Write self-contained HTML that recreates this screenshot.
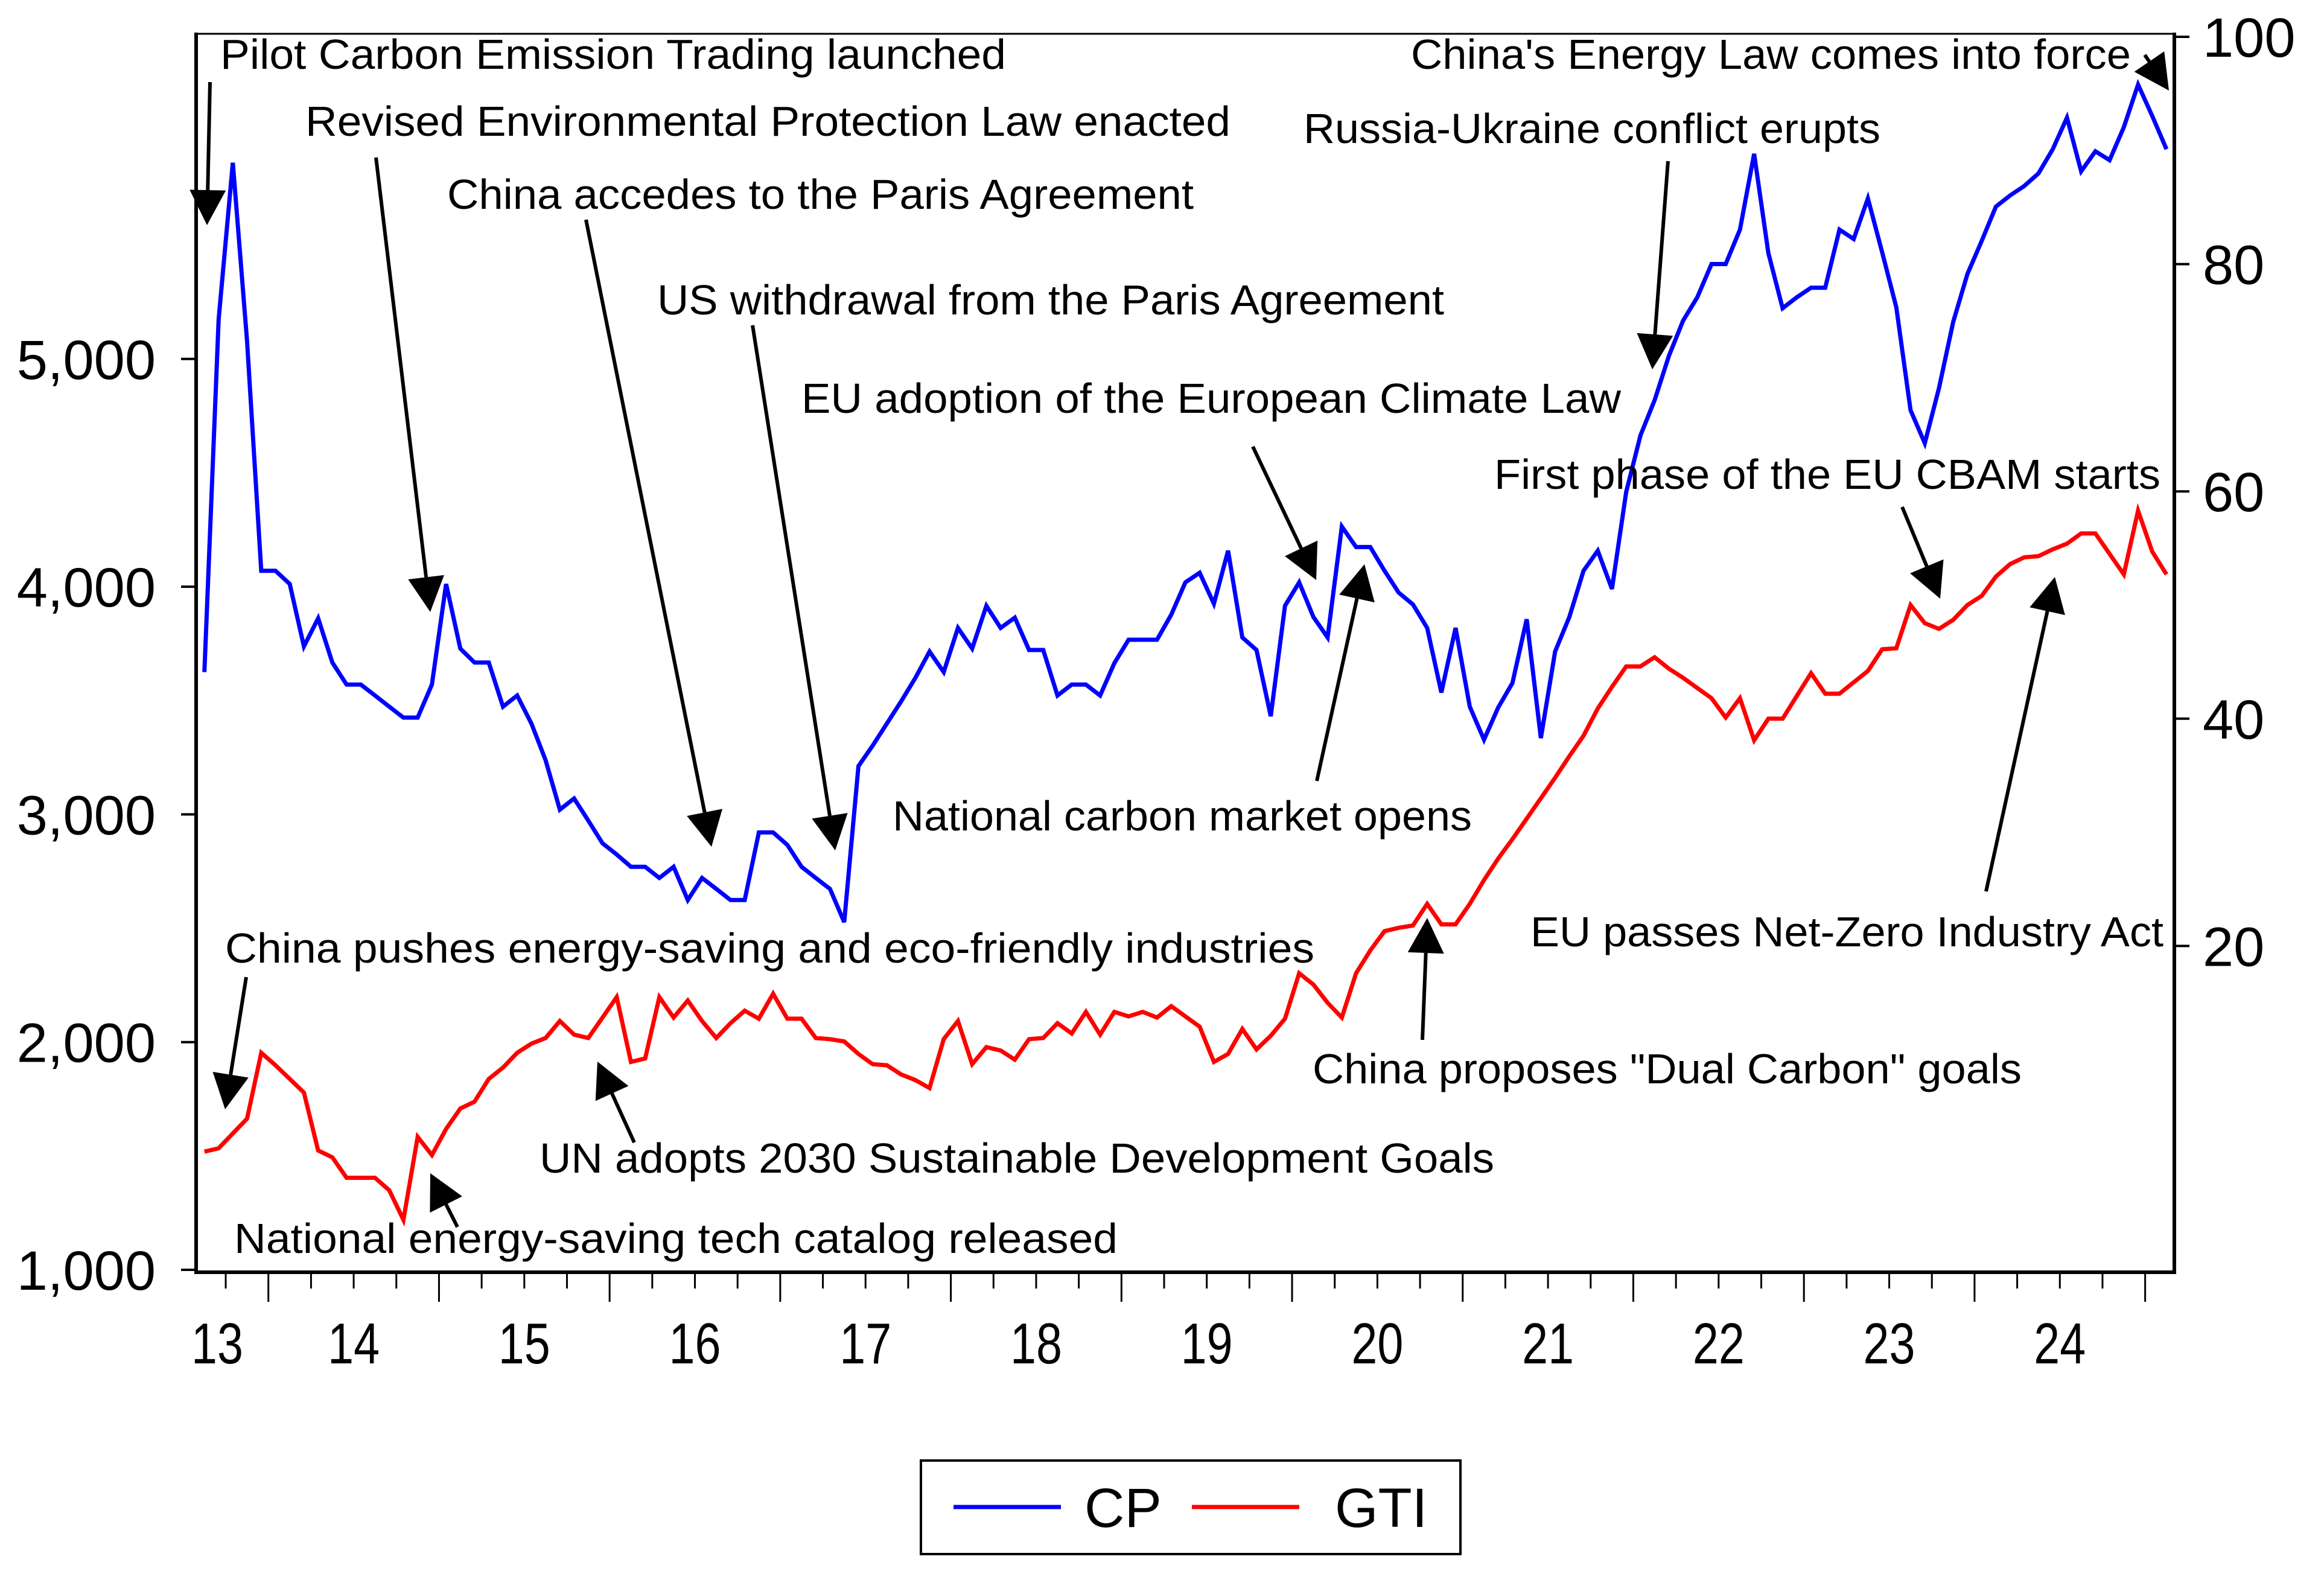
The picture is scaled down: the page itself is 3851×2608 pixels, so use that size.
<!DOCTYPE html>
<html><head><meta charset="utf-8">
<style>
html,body{margin:0;padding:0;background:#fff;}
svg{display:block;}
text{font-family:"Liberation Sans",Arial,sans-serif;fill:#000;}
</style></head>
<body>
<svg id="chart" width="3851" height="2608" viewBox="0 0 3851 2608" xmlns="http://www.w3.org/2000/svg">
<rect x="0" y="0" width="3851" height="2608" fill="#fff"/>
<g id="gridLayer"></g>
<g id="seriesLayer"></g>
<g id="annoLayer"></g>
<g>
  <rect x="1526" y="2420" width="894" height="155" fill="#fff" stroke="#000" stroke-width="4"/>
  <line x1="1580" y1="2497" x2="1758" y2="2497" stroke="#0000ff" stroke-width="7"/>
  <text x="1797" y="2530" font-size="92">CP</text>
  <line x1="1975" y1="2497" x2="2153" y2="2497" stroke="#ff0000" stroke-width="7"/>
  <text x="2212" y="2530" font-size="92">GTI</text>
</g>
</svg>
<script>
// ---- data ----
const startMonth = 7; // months since Jan 2013 (Aug 2013)
const cpValues = [
3625,5174,5862,5078,4070,4070,4012,3738,3861,3667,3570,3570,3522,3473,3425,3425,3570,4012,3728,3667,3667,3473,3522,
3399,3238,3021,3070,2973,2873,2824,2770,2770,2721,2770,2624,2721,2673,2624,2624,2921,2921,2866,2770,2721,2673,2527,
3212,3302,3399,3496,3599,3715,3625,3819,3728,3916,3819,3864,3722,3722,3522,3570,3570,3522,3664,3767,3767,3767,3877,
4019,4061,3925,4158,3777,3722,3431,3916,4019,3867,3777,4264,4174,4174,4070,3974,3922,3819,3535,3819,3473,3328,3470,
3577,3857,3335,3715,3867,4070,4158,3990,4416,4664,4819,5013,5168,5271,5417,5417,5568,5901,5465,5223,5271,5313,5313,5568,
5527,5705,5469,5227,4775,4630,4872,5163,5373,5518,5669,5718,5760,5815,5921,6060,5824,5912,5873,6018,6205,6067,5921];
const gtiValues = [
1.9,2.2,3.5,4.8,10.6,9.5,8.3,7.1,2.0,1.4,-0.4,-0.4,-0.4,-1.5,-4.1,3.2,1.6,3.9,5.7,6.3,8.3,9.3,10.6,
11.4,11.9,13.4,12.2,11.9,13.7,15.5,9.8,10.1,15.5,13.7,15.2,13.4,11.9,13.2,14.3,13.6,15.8,13.6,13.6,11.9,11.8,11.6,
10.5,9.6,9.5,8.7,8.2,7.5,11.8,13.4,9.6,11.1,10.8,10.0,11.8,11.9,13.2,12.3,14.2,12.2,14.2,13.8,14.2,13.7,14.7,
13.8,12.9,9.8,10.5,12.7,10.9,12.1,13.6,17.6,16.6,15.0,13.7,17.6,19.6,21.3,21.6,21.8,23.7,21.9,21.9,23.7,25.8,27.7,
29.4,31.2,33.0,34.8,36.7,38.5,40.9,42.8,44.6,44.6,45.4,44.4,43.6,42.7,41.8,40.1,41.8,38.1,40.0,40.0,42.0,44.0,42.2,42.2,
43.2,44.2,46.1,46.2,50.0,48.4,47.9,48.7,50.0,50.8,52.5,53.6,54.2,54.3,54.9,55.4,56.3,56.3,54.5,52.7,58.3,54.7,52.7];
const leftTicks = [1000,2000,3000,4000,5000];
const leftTickLabels = ["1,000","2,000","3,000","4,000","5,000"];
const rightTicks = [20,40,60,80,100];
const rightTickLabels = ["20","40","60","80","100"];
const yearLabels = ["13","14","15","16","17","18","19","20","21","22","23","24"];

// ---- scales ----
const L = 325, R = 3603, T = 56, B = 2108;
function xOfMonth(m){ return 162 + 23.56 * m; }        // m = months since Jan 2013
function xOfIndex(i){ return xOfMonth(startMonth + i + 0.5); }
function yLeft(v){ return 2104 - (v - 1000) * 0.3773; }
function yRight(v){ return 1944 - v * 18.83; }

const NS = "http://www.w3.org/2000/svg";
function mk(tag, attrs, parent){
  const e = document.createElementNS(NS, tag);
  for (const k in attrs) e.setAttribute(k, attrs[k]);
  parent.appendChild(e);
  return e;
}
const axes = document.getElementById('gridLayer');
const series = document.getElementById('seriesLayer');
const anno = document.getElementById('annoLayer');

// frame
let e = mk('rect', {x:L, y:T, width:R-L, height:B-T, fill:'none', stroke:'#000', 'stroke-width':3}, axes);


e = mk('line', {x1:L, y1:T-2, x2:L, y2:B+3, stroke:'#000', 'stroke-width':6}, axes);


e = mk('line', {x1:R, y1:T-2, x2:R, y2:B+3, stroke:'#000', 'stroke-width':6}, axes);


e = mk('line', {x1:L-3, y1:B, x2:R+3, y2:B, stroke:'#000', 'stroke-width':6}, axes);



// left ticks
leftTicks.forEach((v, i) => {
  const y = yLeft(v);
  let t = mk('line', {x1:L-25, y1:y, x2:L, y2:y, stroke:'#000', 'stroke-width':4}, axes);
  
  
  let lb = mk('text', {x:258, y:y+33, 'font-size':92, 'text-anchor':'end'}, axes);
  lb.textContent = leftTickLabels[i];
  
  
});
// right ticks
rightTicks.forEach((v, i) => {
  const y = yRight(v);
  let t = mk('line', {x1:R, y1:y, x2:R+25, y2:y, stroke:'#000', 'stroke-width':4}, axes);
  
  
  let lb = mk('text', {x:3650, y:y+33, 'font-size':92}, axes);
  lb.textContent = rightTickLabels[i];
  
  
});
// x ticks (quarterly minor, yearly major)
for (let q = 0; q <= 52; q++) {
  const x = xOfMonth(q * 3);
  if (x < L + 5 || x > R - 2) continue;
  const major = q % 4 === 0;
  let t = mk('line', {x1:x, y1:B+3, x2:x, y2: major ? 2157 : 2135, stroke:'#000', 'stroke-width':3}, axes);
  
  
}
yearLabels.forEach((lab, i) => {
  let cx = xOfMonth(i * 12 + 6);
  if (i === 0) cx = 360;
  let t = mk('text', {x:cx, y:2259, 'font-size':96, 'text-anchor':'middle', textLength:86, lengthAdjust:'spacingAndGlyphs'}, axes);
  t.textContent = lab;
  
  
});

// series
function pts(vals, yf){ return vals.map((v, i) => xOfIndex(i).toFixed(1) + ',' + yf(v).toFixed(1)).join(' '); }
let pl = mk('polyline', {points: pts(gtiValues, yRight), fill:'none', stroke:'#ff0000', 'stroke-width':7, 'stroke-linejoin':'miter'}, series);


pl = mk('polyline', {points: pts(cpValues, yLeft), fill:'none', stroke:'#0000ff', 'stroke-width':7, 'stroke-linejoin':'miter'}, series);



// annotations: text, x1, x2, baseline, shaft start, tip, head base points
const annotations = [
 ["Pilot Carbon Emission Trading launched", 365, 1667, 114, [348,136], [343,373]],
 ["Revised Environmental Protection Law enacted", 506, 2039, 225, [623,261], [713,1014]],
 ["China accedes to the Paris Agreement", 741, 1978, 346, [971,364], [1179,1403]],
 ["US withdrawal from the Paris Agreement", 1089, 2393, 521, [1247,539], [1384,1409]],
 ["EU adoption of the European Climate Law", 1328, 2686, 684, [2076,740], [2181,961]],
 ["China's Energy Law comes into force", 2338, 3531, 114, [3554,91], [3594,150]],
 ["Russia-Ukraine conflict erupts", 2160, 3116, 237, [2764,267], [2738,612]],
 ["First phase of the EU CBAM starts", 2476, 3580, 810, [3152,840], [3215,992]],
 ["EU passes Net-Zero Industry Act", 2536, 3585, 1568, [3291,1477], [3405,956]],
 ["National carbon market opens", 1479, 2439, 1376, [2182,1294], [2261,935]],
 ["China pushes energy-saving and eco-friendly industries", 373, 2178, 1595, [408,1619], [373,1838]],
 ["China proposes \"Dual Carbon\" goals", 2175, 3350, 1795, [2357,1723], [2365,1521]],
 ["UN adopts 2030 Sustainable Development Goals", 894, 2476, 1943, [1051,1893], [990,1759]],
 ["National energy-saving tech catalog released", 388, 1852, 2076, [758,2033], [713,1944]]
];
annotations.forEach(a => {
  const [txt, x1, x2, base, s, tip] = a;
  let t = mk('text', {x:x1, y:base, 'font-size':70, textLength:(x2-x1), lengthAdjust:'spacingAndGlyphs'}, anno);
  t.textContent = txt;
  
  
  const dx = tip[0]-s[0], dy = tip[1]-s[1];
  const len = Math.hypot(dx, dy), ux = dx/len, uy = dy/len;
  const hl = 58, hw = 30;
  const bx = tip[0]-ux*hl, by = tip[1]-uy*hl;
  let ln = mk('line', {x1:s[0], y1:s[1], x2:bx, y2:by, stroke:'#000', 'stroke-width':6}, anno);
  
  
  let hd = mk('polygon', {points: `${tip[0]},${tip[1]} ${bx-uy*hw},${by+ux*hw} ${bx+uy*hw},${by-ux*hw}`, fill:'#000'}, anno);
  
  
});
</script>
</body></html>
